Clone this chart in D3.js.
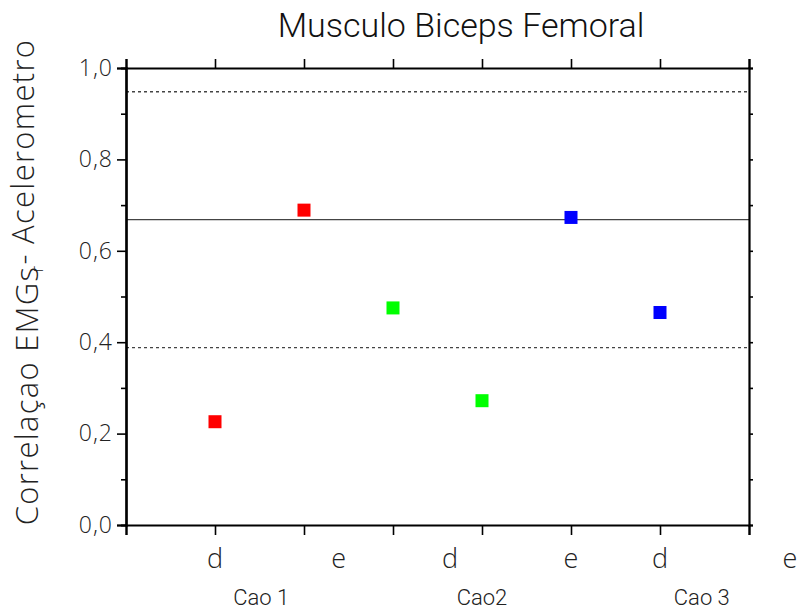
<!DOCTYPE html>
<html>
<head>
<meta charset="utf-8">
<script src="https://cdn.jsdelivr.net/npm/d3@7"></script>
<style>
  body { margin: 0; background: #fff; }
  svg { display: block; }
</style>
</head>
<body>
<div id="chart"></div>
<script>
// data
var positions = [1, 2, 3, 4, 5, 6];
var values = [0.226, 0.689, 0.475, 0.272, 0.673, 0.465];
var colors = ["#ff0000", "#ff0000", "#00ff00", "#00ff00", "#0000ff", "#0000ff"];
var sideLabels = ["d", "e", "d", "e", "d", "e"];
var sideLabelPos = [1, 2.39, 3.64, 5, 6, 7.46];
var groupLabels = ["Cao 1", "Cao2", "Cao 3"];
var groupLabelPos = [1.52, 4, 6.47];
var refLines = [
  { value: 0.948, dashed: true },
  { value: 0.668, dashed: false },
  { value: 0.388, dashed: true }
];
var yTicks = [0, 0.2, 0.4, 0.6, 0.8, 1.0];

var W = 805, H = 609;
var plotL = 126, plotR = 749, plotT = 68, plotB = 525;

var svg = d3.select("#chart").append("svg")
  .attr("width", W)
  .attr("height", H);

var x = d3.scaleLinear().domain([0, 7]).range([plotL, plotR]);
var y = d3.scaleLinear().domain([0, 1]).range([plotB, plotT]);

var numFont = "'Open Sans', sans-serif";
var thinFont = "Roboto, sans-serif";

// reference lines
svg.selectAll(".ref")
  .data(refLines)
  .enter()
  .append("line")
  .attr("x1", x(0))
  .attr("x2", x(7))
  .attr("y1", function (d) { return y(d.value); })
  .attr("y2", function (d) { return y(d.value); })
  .attr("stroke", "#444")
  .attr("stroke-width", 1.3)
  .attr("stroke-dasharray", function (d) { return d.dashed ? "3,3" : null; });

// axes
var minor = d3.range(0, 1.01, 0.1);

var yLeft = svg.append("g")
  .attr("transform", "translate(" + plotL + ",0)")
  .call(d3.axisLeft(y).tickValues(yTicks).tickSize(9)
    .tickFormat(function (d) { return d3.format(".1f")(d).replace(".", ","); }));
yLeft.selectAll("text")
  .style("font-family", numFont)
  .style("font-size", "23px")
  .style("font-weight", 300)
  .style("letter-spacing", "1px")
  .attr("fill", "#222")
  .attr("dx", "-1px");

svg.append("g")
  .attr("transform", "translate(" + plotL + ",0)")
  .call(d3.axisLeft(y).tickValues(minor.filter(function (d, i) { return i % 2 === 1; }))
    .tickSize(5).tickFormat(""));

svg.append("g")
  .attr("transform", "translate(" + plotR + ",0)")
  .call(d3.axisRight(y).tickValues(minor).tickSize(4).tickFormat(""));

svg.append("g")
  .attr("transform", "translate(0," + plotB + ")")
  .call(d3.axisBottom(x).ticks(7).tickSize(10).tickFormat(""));

svg.append("g")
  .attr("transform", "translate(0," + plotT + ")")
  .call(d3.axisTop(x).ticks(7).tickSize(9).tickFormat(""));

svg.selectAll(".domain").attr("stroke", "#000").attr("stroke-width", 2.2);
svg.selectAll(".tick line").attr("stroke", "#000").attr("stroke-width", 1.6);

// points
svg.selectAll(".pt")
  .data(values)
  .enter()
  .append("rect")
  .attr("class", "pt")
  .attr("x", function (d, i) { return x(positions[i]) - 6.5; })
  .attr("y", function (d) { return y(d) - 6.5; })
  .attr("width", 13)
  .attr("height", 13)
  .attr("fill", function (d, i) { return colors[i]; });

// category labels
svg.selectAll(".side")
  .data(sideLabels)
  .enter()
  .append("text")
  .attr("x", function (d, i) { return x(sideLabelPos[i]); })
  .attr("y", 568)
  .attr("text-anchor", "middle")
  .style("font-family", numFont)
  .style("font-weight", 300)
  .style("font-size", "27px")
  .attr("fill", "#222")
  .text(function (d) { return d; });

svg.selectAll(".group")
  .data(groupLabels)
  .enter()
  .append("text")
  .attr("x", function (d, i) { return x(groupLabelPos[i]); })
  .attr("y", 605)
  .attr("text-anchor", "middle")
  .style("font-family", thinFont)
  .style("font-weight", 300)
  .style("font-size", "22px")
  .attr("fill", "#222")
  .text(function (d) { return d; });

// title
svg.append("text")
  .attr("x", 461)
  .attr("y", 37)
  .attr("text-anchor", "middle")
  .style("font-family", thinFont)
  .style("font-weight", 300)
  .style("font-size", "34px")
  .attr("fill", "#111")
  .text("Musculo Biceps Femoral");

// y label
var yl = svg.append("text")
  .attr("transform", "translate(38,282) rotate(-90)")
  .attr("text-anchor", "middle")
  .style("font-family", numFont)
  .style("font-weight", 300)
  .style("font-size", "31px")
  .style("letter-spacing", "1.3px")
  .attr("fill", "#222");
yl.append("tspan").text("Correlaçao EMGs");
yl.append("tspan").attr("dy", "0.3em").attr("dx", "-0.4em").style("font-size", "17px").text("r");
yl.append("tspan").attr("dy", "-0.3em").text("- Acelerometro");
</script>
</body>
</html>
